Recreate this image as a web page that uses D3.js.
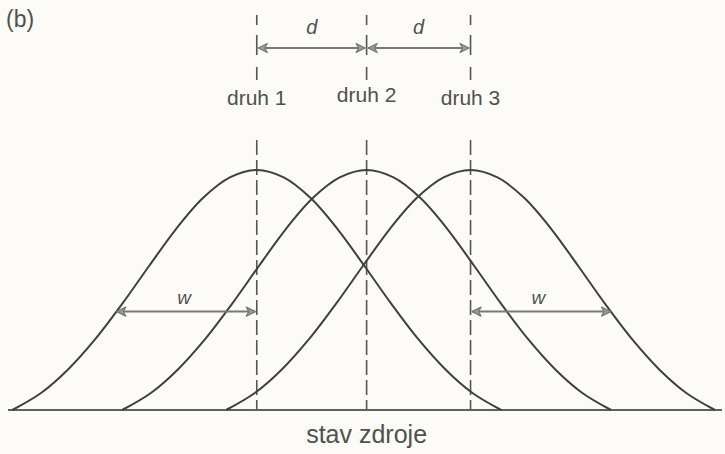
<!DOCTYPE html>
<html>
<head>
<meta charset="utf-8">
<script src="https://cdn.jsdelivr.net/npm/d3@7"></script>
<style>
  html, body { margin: 0; padding: 0; background: #fcfbf7; }
  svg { display: block; }
  text { font-family: "Liberation Sans", Arial, Helvetica, sans-serif; fill: #4f524d; }
</style>
</head>
<body>
<svg id="chart" width="725" height="454"></svg>
<script>
// ---- data ----
const panelLabel = "(b)";
const axisLabel = "stav zdroje";
const species = ["druh 1", "druh 2", "druh 3"];
const speciesPos = [-1.02, 0, 0.965];          // resource-state position of each species (d ≈ 1)
// niche (utilisation) curve profile: offset from the species position -> relative height
const profileOffset = [-2.27, -2.0, -1.75, -1.5, -1.25, -1.0, -0.75, -0.5, -0.25, 0, 0.25, 0.5, 0.75, 1.0, 1.25, 1.5, 1.75, 2.0, 2.27];
const profileHeight = [0, 0.072, 0.170, 0.295, 0.442, 0.600, 0.754, 0.883, 0.969, 1, 0.969, 0.883, 0.754, 0.600, 0.442, 0.295, 0.170, 0.072, 0];
const dLabel = "d";
const wLabel = "w";
const wWidth = 1.3;             // niche width w
const wLevel = 0.41;            // height at which w is drawn
const xDomain = [-3.33, 3.30];  // resource axis extent

// ---- layout ----
const svg = d3.select("#chart");
const x = d3.scaleLinear().domain(xDomain).range([8, 722]);
const y = d3.scaleLinear().domain([0, 1]).range([410, 170]);

const curveCol = "#3e423b";
const arrowCol = "#767b73";
const dashCol = "#55584f";

// arrow marker defs
const defs = svg.append("defs");
function marker(id, dir) {
  const m = defs.append("marker").attr("id", id)
    .attr("viewBox", "-10 -6 12 12").attr("refX", 0).attr("refY", 0)
    .attr("markerWidth", 12).attr("markerHeight", 12).attr("markerUnits", "userSpaceOnUse")
    .attr("orient", dir === "end" ? "auto" : "auto-start-reverse");
  m.append("path").attr("d", "M0,0 L-9,-4.5 L-6.5,0 L-9,4.5 Z")
    .attr("fill", "#9a9e97").attr("stroke", arrowCol).attr("stroke-width", 1.2).attr("stroke-linejoin", "round");
}
marker("arrEnd", "end");
marker("arrStart", "start");

// baseline (resource axis)
svg.append("line")
  .attr("x1", x(xDomain[0])).attr("x2", x(xDomain[1]))
  .attr("y1", y(0)).attr("y2", y(0))
  .attr("stroke", "#5f645b").attr("stroke-width", 2);

// dashed vertical lines at each species position
speciesPos.forEach(p => {
  // upper part (around the d arrows)
  svg.append("line")
    .attr("x1", x(p)).attr("x2", x(p)).attr("y1", 15).attr("y2", 80)
    .attr("stroke", dashCol).attr("stroke-width", 1.6)
    .attr("stroke-dasharray", "10,10,20,12,13,100");
  // lower part (through the curves)
  svg.append("line")
    .attr("x1", x(p)).attr("x2", x(p)).attr("y1", 140).attr("y2", y(0))
    .attr("stroke", dashCol).attr("stroke-width", 1.6)
    .attr("stroke-dasharray", "15,5");
});

// niche curves
const line = d3.line()
  .x(d => x(d[0])).y(d => y(d[1]))
  .curve(d3.curveCatmullRom.alpha(0.5));
speciesPos.forEach(p => {
  const pts = profileOffset.map((o, i) => [p + o, profileHeight[i]]);
  svg.append("path").attr("d", line(pts))
    .attr("fill", "none").attr("stroke", curveCol).attr("stroke-width", 2);
});

// species labels
const labelY = [105, 102, 105];
species.forEach((s, i) => {
  svg.append("text").attr("x", x(speciesPos[i])).attr("y", labelY[i])
    .attr("text-anchor", "middle").attr("font-size", 21).text(s);
});

// d arrows
function arrow(x1, x2, yy) {
  svg.append("line").attr("x1", x1).attr("x2", x2).attr("y1", yy).attr("y2", yy)
    .attr("stroke", arrowCol).attr("stroke-width", 2)
    .attr("marker-start", "url(#arrStart)").attr("marker-end", "url(#arrEnd)");
}
for (let i = 0; i < speciesPos.length - 1; i++) {
  const a = x(speciesPos[i]) + 1.5, b = x(speciesPos[i + 1]) - 1.5;
  arrow(a, b, 48);
  svg.append("text").attr("x", (a + b) / 2).attr("y", 34)
    .attr("text-anchor", "middle").attr("font-size", 20).attr("font-style", "italic").text(dLabel);
}

// w arrows
const wy = y(wLevel);
const w1a = x(speciesPos[0] - wWidth), w1b = x(speciesPos[0]) - 1.5;
arrow(w1a, w1b, wy);
svg.append("text").attr("x", (w1a + w1b) / 2 - 2).attr("y", wy - 8)
  .attr("text-anchor", "middle").attr("font-size", 19).attr("font-style", "italic").text(wLabel);
const last = speciesPos[speciesPos.length - 1];
const w2a = x(last) + 1.5, w2b = x(last + wWidth);
arrow(w2a, w2b, wy);
svg.append("text").attr("x", (w2a + w2b) / 2 - 3).attr("y", wy - 8)
  .attr("text-anchor", "middle").attr("font-size", 19).attr("font-style", "italic").text(wLabel);

// axis label and panel label
svg.append("text").attr("x", x(0)).attr("y", 443)
  .attr("text-anchor", "middle").attr("font-size", 25).text(axisLabel);
svg.append("text").attr("x", 6).attr("y", 27)
  .attr("font-size", 23).text(panelLabel);
</script>
</body>
</html>
